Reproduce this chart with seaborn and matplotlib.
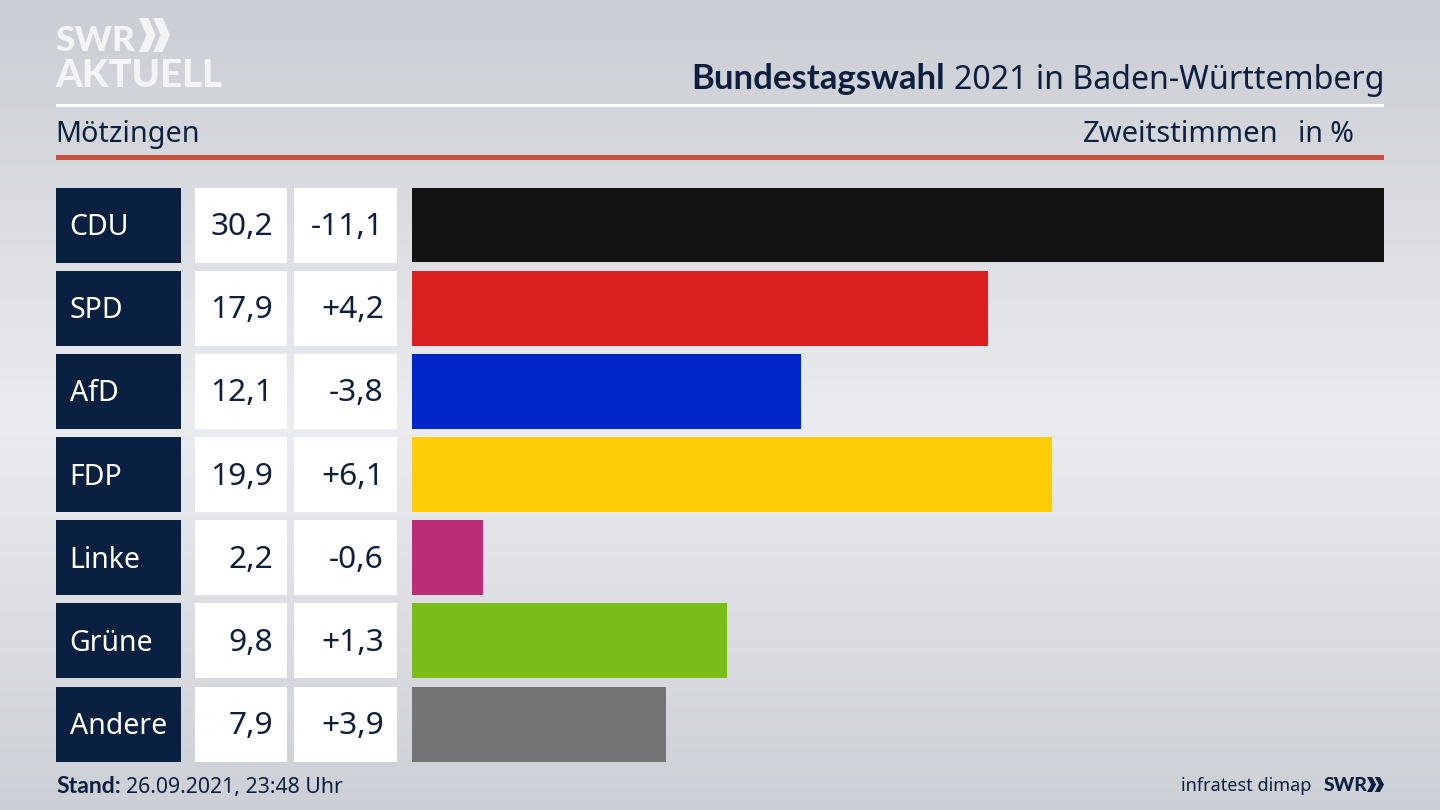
import matplotlib.pyplot as plt
from matplotlib.patches import Polygon, Rectangle
import numpy as np
import pandas as pd
import seaborn as sns

parties = ["CDU", "SPD", "AfD", "FDP", "Linke", "Grüne", "Andere"]
shares = [30.2, 17.9, 12.1, 19.9, 2.2, 9.8, 7.9]
share_labels = ["30,2", "17,9", "12,1", "19,9", "2,2", "9,8", "7,9"]
diff_labels = ["-11,1", "+4,2", "-3,8", "+6,1", "-0,6", "+1,3", "+3,9"]
colors = ["#121212", "#d9201e", "#0025c8", "#ffcc08", "#bb2d74", "#7abd19", "#737476"]

NAVY = "#0a2040"
TEXT = "#0c1f3f"
LOGO = "#f3f4f6"
BOLD = ["Lato", "DejaVu Sans"]

sns.set_style("white")
plt.rcParams["font.family"] = ["Noto Sans", "DejaVu Sans"]

W, H = 1440, 810

fig = plt.figure(figsize=(14.4, 8.1), dpi=100)

# pixel canvas behind everything
bg = fig.add_axes([0, 0, 1, 1])
bg.axis("off")

# grey background, lightest in the middle
yy = np.linspace(0, 1, 300)[:, None]
shade = np.clip(np.abs(yy - 0.52) * 2.05, 0, 1)
top = np.array([0xcc, 0xcf, 0xd5]) / 255
mid = np.array([0xeb, 0xec, 0xf0]) / 255
grad = mid + (top - mid) * shade[..., None]
bg.imshow(grad, extent=[0, W, H, 0], aspect="auto", zorder=0)
bg.set_xlim(0, W)
bg.set_ylim(H, 0)

# header rules
bg.add_patch(Rectangle((56, 104), 1328, 3, color="white", lw=0))
bg.add_patch(Rectangle((56, 155), 1328, 5, color="#c9523f", lw=0))

# logo
bg.text(55, 51, "SWR", color=LOGO, fontsize=25.5, family=BOLD, fontweight="black", va="baseline")
bg.text(55, 87, "AKTUELL", color=LOGO, fontsize=27.5, family=BOLD, fontweight="black", va="baseline")


def chevrons(x, y, w, h, color):
    step = w * 0.46
    for k in range(2):
        x0 = x + k * step
        bg.add_patch(Polygon(
            [(x0, y), (x0 + w * 0.3, y), (x0 + w * 0.54, y + h / 2),
             (x0 + w * 0.3, y + h), (x0, y + h), (x0 + w * 0.24, y + h / 2)],
            color=color, lw=0))


chevrons(139, 18, 31, 34, LOGO)

# title, bold part sits left of the regular part
title = bg.text(1384, 89, "2021 in Baden-Württemberg", color=TEXT, fontsize=23.1,
                ha="right", va="baseline")
fig.canvas.draw()
left = title.get_window_extent().x0
bg.text(left - 9, 89, "Bundestagswahl", color=TEXT, fontsize=25, family=BOLD, fontweight="bold",
        ha="right", va="baseline")

bg.text(55, 142, "Mötzingen", color=TEXT, fontsize=20.7, va="baseline")
bg.text(1083, 142, "Zweitstimmen", color=TEXT, fontsize=21, va="baseline")
bg.text(1354, 142, "in %", color=TEXT, fontsize=20.5, ha="right", va="baseline")

# table cells left of the bars
row_top = 187.5
row_h = 75
row_step = 83.17
for i, party in enumerate(parties):
    y0 = row_top + i * row_step
    base = y0 + 47.5
    bg.add_patch(Rectangle((56, y0), 125, row_h, color=NAVY, lw=0))
    bg.add_patch(Rectangle((195, y0), 92, row_h, color="white", lw=0))
    bg.add_patch(Rectangle((294, y0), 103, row_h, color="white", lw=0))
    bg.text(69.5, base, party, color="white", fontsize=20.5, va="baseline")
    bg.text(273, base, share_labels[i], color=TEXT, fontsize=22.8, ha="right", va="baseline")
    bg.text(384, base, diff_labels[i], color=TEXT, fontsize=22.8, ha="right", va="baseline")

# footer
bg.text(56, 793, "Stand:", color=TEXT, fontsize=16.6, family=BOLD, fontweight="bold", va="baseline")
bg.text(126, 793, "26.09.2021, 23:48 Uhr", color=TEXT, fontsize=15.3, va="baseline")
bg.text(1311, 791, "infratest dimap", color=TEXT, fontsize=13, ha="right", va="baseline")
bg.text(1324, 791, "SWR", color=NAVY, fontsize=14, family=BOLD, fontweight="black", va="baseline")
chevrons(1367, 777, 17, 15, NAVY)

# the bars
ax_top = row_top
ax_bottom = row_top + 6 * row_step + row_h
ax = fig.add_axes([412 / W, 1 - ax_bottom / H, (1384 - 412) / W, (ax_bottom - ax_top) / H])
ax.patch.set_alpha(0)

df = pd.DataFrame({"party": parties, "share": shares})
sns.barplot(data=df, x="share", y="party", hue="party", palette=colors, order=parties,
            hue_order=parties, dodge=False, width=0.9, saturation=1, legend=False,
            linewidth=0, ax=ax)
ax.set_xlim(0, max(shares))
ax.set_ylim(6.45, -0.45)
ax.set_xlabel("")
ax.set_ylabel("")
ax.set_xticks([])
ax.set_yticks([])
sns.despine(ax=ax, left=True, bottom=True)

plt.savefig("out.png", dpi=100)
plt.close()
